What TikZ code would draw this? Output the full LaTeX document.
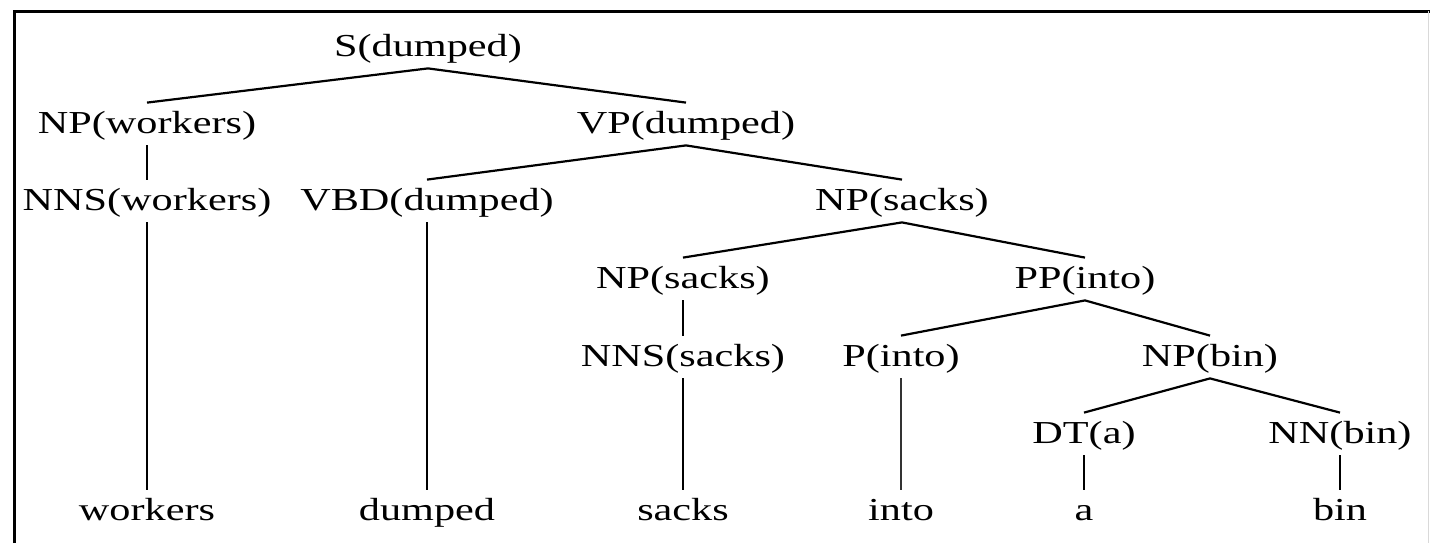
\documentclass[tikz,border=0pt]{standalone}
\usepackage{fontspec}
\setmainfont{Liberation Serif}[FakeStretch=1.32]
\usepackage{tikz}

\begin{document}
\begin{tikzpicture}[x=0.5pt,y=-0.5pt,
  cat/.style={anchor=base,inner xsep=0pt,inner ysep=4pt,text height=11pt,text depth=2pt,font=\fontsize{16pt}{18pt}\selectfont},
  branch/.style={line width=1.1pt}]
\useasboundingbox (0,0) rectangle (1430,543);
\draw [line width=1.5pt] (14,543) -- (14,11) -- (1430,11);
\draw [black!15,line width=0.8pt] (1428.5,11) -- (1428.5,543);
\node (s) [cat] at (428,56) {S(dumped)};
\node (npw) [cat] at (147,133) {NP(workers)};
\node (vp) [cat] at (686,133) {VP(dumped)};
\node (nnsw) [cat] at (147,210) {NNS(workers)};
\node (vbd) [cat] at (427,210) {VBD(dumped)};
\node (nps) [cat] at (902,210) {NP(sacks)};
\node (npsk) [cat] at (683,288) {NP(sacks)};
\node (pp) [cat] at (1085,288) {PP(into)};
\node (nnss) [cat] at (683,366) {NNS(sacks)};
\node (p) [cat] at (901,366) {P(into)};
\node (npb) [cat] at (1210,366) {NP(bin)};
\node (dt) [cat] at (1084,443) {DT(a)};
\node (nn) [cat] at (1340,443) {NN(bin)};
\node (workers) [cat] at (147,520) {workers};
\node (dumped) [cat] at (427,520) {dumped};
\node (sacks) [cat] at (683,520) {sacks};
\node (into) [cat] at (901,520) {into};
\node (a) [cat] at (1084,520) {a};
\node (bin) [cat] at (1340,520) {bin};
\draw [branch] (npw.north) -- (s.south) -- (vp.north);
\draw [branch] (npw.south) -- (nnsw.north);
\draw [branch] (nnsw.south) -- (workers.north);
\draw [branch] (vbd.north) -- (vp.south) -- (nps.north);
\draw [branch] (vbd.south) -- (dumped.north);
\draw [branch] (npsk.north) -- (nps.south) -- (pp.north);
\draw [branch] (npsk.south) -- (nnss.north);
\draw [branch] (nnss.south) -- (sacks.north);
\draw [branch] (p.north) -- (pp.south) -- (npb.north);
\draw [line width=0.6pt,black!80] (p.south) -- (into.north);
\draw [branch] (dt.north) -- (npb.south) -- (nn.north);
\draw [branch] (dt.south) -- (a.north);
\draw [branch] (nn.south) -- (bin.north);
\end{tikzpicture}
\end{document}
